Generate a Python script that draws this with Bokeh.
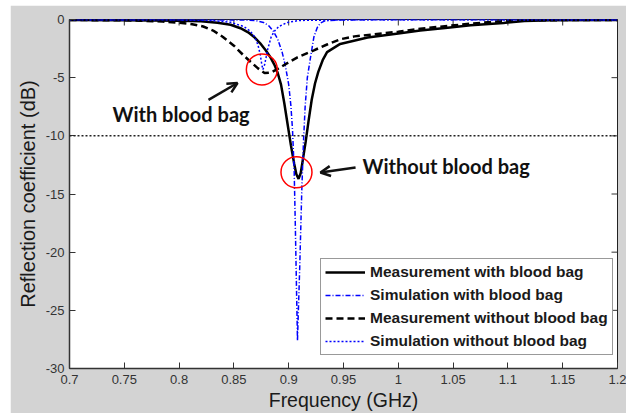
import math
from bokeh.plotting import figure
from bokeh.models import (Span, Arrow, OpenHead, Legend, LegendItem,
                          FixedTicker, Range1d, Label)
from bokeh.embed import file_html
from bokeh.resources import INLINE

# ---------------- data ----------------
freq_meas_with = [0.700, 0.750, 0.800, 0.820, 0.835, 0.847, 0.856, 0.863, 0.869, 0.874,
                  0.879, 0.883, 0.887, 0.890, 0.893, 0.896, 0.899, 0.902, 0.905, 0.907,
                  0.909, 0.911, 0.913, 0.9155, 0.918, 0.921, 0.924, 0.927, 0.931, 0.935,
                  0.947, 0.972, 1.000, 1.020, 1.045, 1.066, 1.096, 1.115, 1.140, 1.200]
db_meas_with = [-0.05, -0.06, -0.10, -0.15, -0.28, -0.45, -0.75, -1.10, -1.55, -2.05,
                -2.65, -3.20, -3.90, -4.60, -5.60, -7.20, -9.00, -10.80, -12.40, -13.30,
                -13.70, -13.20, -12.00, -10.50, -8.80, -6.90, -5.50, -4.50, -3.50, -2.80,
                -2.10, -1.55, -1.20, -0.95, -0.70, -0.50, -0.30, -0.12, -0.06, -0.05]

freq_sim_with = [0.700, 0.800, 0.860, 0.870, 0.877, 0.882, 0.886, 0.890, 0.894, 0.897,
                 0.900, 0.902, 0.9035, 0.905, 0.906, 0.907, 0.908, 0.909, 0.910, 0.911,
                 0.912, 0.9135, 0.915, 0.917, 0.920, 0.923, 0.926, 0.929, 0.933, 0.950,
                 1.000, 1.200]
db_sim_with = [-0.02, -0.02, -0.04, -0.10, -0.25, -0.55, -1.00, -1.70, -2.80, -4.00,
               -5.60, -7.40, -9.50, -13.00, -17.50, -22.50, -27.60, -24.50, -21.50, -18.00,
               -14.50, -10.50, -7.50, -5.00, -3.20, -1.50, -0.70, -0.30, -0.12, -0.04,
               -0.02, -0.02]

freq_meas_without = [0.700, 0.750, 0.765, 0.785, 0.800, 0.812, 0.822, 0.831, 0.840, 0.850,
                     0.859, 0.866, 0.872, 0.878, 0.884, 0.890, 0.897, 0.908, 0.923, 0.935,
                     0.947, 0.960, 0.975, 1.000, 1.020, 1.045, 1.066, 1.090, 1.111, 1.150,
                     1.200]
db_meas_without = [-0.05, -0.06, -0.10, -0.18, -0.28, -0.40, -0.60, -0.95, -1.50, -2.25,
                   -3.10, -3.70, -4.20, -4.60, -4.55, -4.25, -3.85, -3.25, -2.65, -2.15,
                   -1.70, -1.45, -1.30, -1.05, -0.80, -0.55, -0.36, -0.18, -0.08, -0.05,
                   -0.05]

freq_sim_without = [0.700, 0.800, 0.830, 0.847, 0.859, 0.865, 0.869, 0.872, 0.874, 0.8755,
                    0.8765, 0.878, 0.8795, 0.881, 0.884, 0.887, 0.891, 0.899, 0.910, 0.950,
                    1.200]
db_sim_without = [-0.02, -0.03, -0.08, -0.24, -0.60, -1.00, -1.50, -2.20, -3.00, -3.90,
                  -4.30, -3.90, -3.20, -2.50, -1.50, -1.00, -0.60, -0.25, -0.08, -0.03,
                  -0.02]

series_labels = ["Measurement with blood bag", "Simulation with blood bag",
                 "Measurement without blood bag", "Simulation without blood bag"]

x_ticks = [0.7, 0.75, 0.8, 0.85, 0.9, 0.95, 1.0, 1.05, 1.1, 1.15, 1.2]
x_tick_labels = ["0.7", "0.75", "0.8", "0.85", "0.9", "0.95", "1", "1.05", "1.1", "1.15", "1.2"]
y_ticks = [0, -5, -10, -15, -20, -25, -30]
y_tick_labels = ["0", "-5", "-10", "-15", "-20", "-25", "-30"]
x_max, y_max = 1.2, 0

threshold_db = -10

circle_freq = [0.8755, 0.9071]
circle_db = [-4.3, -13.13]

annot_texts = ["With blood bag", "Without blood bag"]
annot_text_freq = [0.7392, 0.9673]
annot_text_db = [-8.12, -12.57]
arrow_tail_freq = [0.8268, 0.9610]
arrow_tail_db = [-6.91, -12.73]
arrow_head_freq = [0.8533, 0.9290]
arrow_head_db = [-5.46, -13.15]

# ---------------- figure ----------------
GRAY = "#d3d3d3"
p = figure(width=616, height=408,
           x_range=Range1d(0.7, 1.2), y_range=Range1d(-30, 0),
           output_backend="svg", toolbar_location=None,
           min_border_left=59, min_border_right=9, min_border_top=14, min_border_bottom=42,
           background_fill_color="white", border_fill_color=GRAY,
           outline_line_color="#222222", outline_line_width=1)
p.margin = (5, 0, 4, 10)
p.grid.visible = False

FONT = "Liberation Sans"

for ax in (p.xaxis[0], p.yaxis[0]):
    ax.major_tick_in = 6
    ax.major_tick_out = 0
    ax.minor_tick_line_color = None
    ax.axis_line_color = "#333333"
    ax.axis_line_width = 1.5
    ax.major_tick_line_color = "#333333"
    ax.major_label_text_font = FONT
    ax.major_label_text_font_size = "13px"
    ax.major_label_text_color = "#333333"
    ax.axis_label_text_font = FONT
    ax.axis_label_text_font_style = "normal"
    ax.axis_label_text_color = "#1a1a1a"

p.xaxis.ticker = FixedTicker(ticks=x_ticks)
p.xaxis.major_label_overrides = dict(zip(x_ticks, x_tick_labels))
p.xaxis.major_label_standoff = 6
p.xaxis.axis_label = "Frequency (GHz)"
p.xaxis.axis_label_text_font_size = "19.5px"
p.xaxis.axis_label_standoff = 2

p.yaxis.ticker = FixedTicker(ticks=y_ticks)
p.yaxis.major_label_overrides = dict(zip(y_ticks, y_tick_labels))
p.yaxis.major_label_standoff = 5
p.yaxis.axis_label = "Reflection coefficient (dB)"
p.yaxis.axis_label_text_font_size = "20px"
p.yaxis.axis_label_standoff = 4

# inward ticks on the top and right edges of the box (MATLAB style)
p.scatter(x_ticks, [y_max] * len(x_ticks), marker="dash", angle=math.pi / 2, size=12,
          line_color="#333333", line_width=1)
p.scatter([x_max] * len(y_ticks), y_ticks, marker="dash", size=12,
          line_color="#333333", line_width=1)

# -10 dB reference line
p.add_layout(Span(location=threshold_db, dimension="width", line_color="#222222",
                  line_dash="2 2", line_width=1.5))

r1 = p.line(freq_meas_with, db_meas_with, line_color="black", line_width=2.5)
r2 = p.line(freq_sim_with, db_sim_with, line_color="#0000ff", line_width=1.5,
            line_dash="5 2 1 2")
r3 = p.line(freq_meas_without, db_meas_without, line_color="black", line_width=2.5,
            line_dash="7 4")
r4 = p.line(freq_sim_without, db_sim_without, line_color="#0000ff", line_width=1.5,
            line_dash="2 2")

# red circles
p.scatter(circle_freq, circle_db, marker="circle", size=31, fill_color=None,
          line_color="red", line_width=1.5)

# annotations
for t, tx, ty in zip(annot_texts, annot_text_freq, annot_text_db):
    p.add_layout(Label(x=tx, y=ty, text=t, text_font="Lato", text_font_style="bold",
                       text_font_size="20px", text_color="#111111",
                       text_baseline="alphabetic", text_align="left"))
for xs, ys, xe, ye in zip(arrow_tail_freq, arrow_tail_db, arrow_head_freq, arrow_head_db):
    p.add_layout(Arrow(end=OpenHead(size=10, line_width=2.5, line_color="#111111"),
                       x_start=xs, y_start=ys, x_end=xe, y_end=ye,
                       line_width=2.5, line_color="#111111"))

legend = Legend(items=[LegendItem(label=lab, renderers=[r])
                       for lab, r in zip(series_labels, [r1, r2, r3, r4])],
                location=(251, 13))
legend.label_text_font = FONT
legend.label_text_font_style = "bold"
legend.label_text_font_size = "15.5px"
legend.label_text_color = "#1a1a1a"
legend.glyph_width = 40
legend.glyph_height = 18
legend.label_height = 18
legend.spacing = 5
legend.padding = 4
legend.label_standoff = 5
legend.margin = 0
legend.border_line_color = "#333333"
legend.border_line_width = 1
legend.background_fill_color = "white"
legend.background_fill_alpha = 1
p.add_layout(legend)

open("out.html", "w").write(file_html(p, INLINE))
